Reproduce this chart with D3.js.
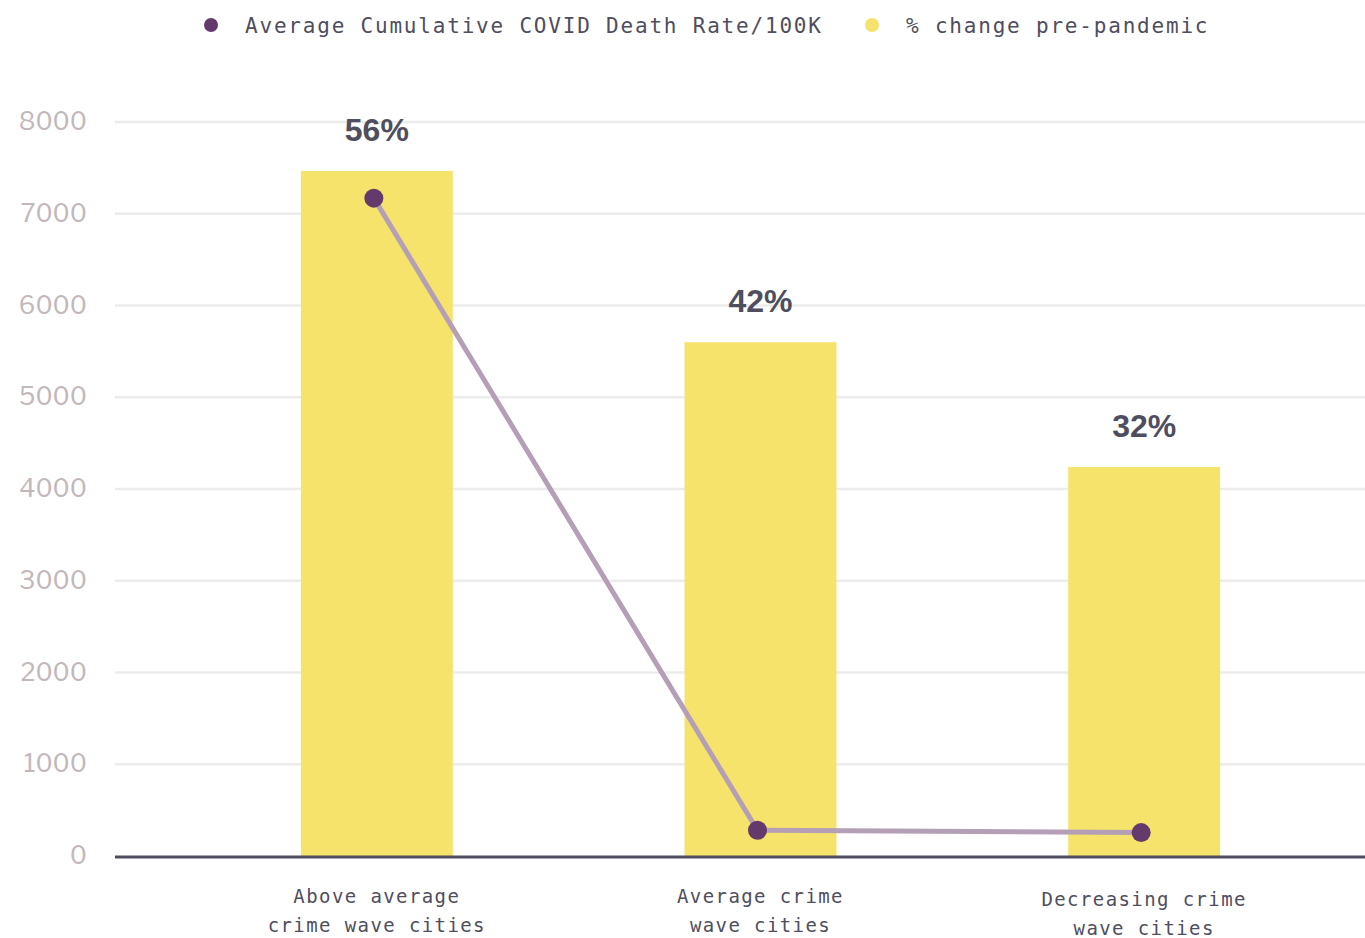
<!DOCTYPE html>
<meta charset="utf-8">
<style>
body { margin: 0; background: #fff; }
.grid line { stroke: #ececec; stroke-width: 2.5; }
.ylab { font-family: "Libre Franklin", Lato, "Open Sans", sans-serif; font-size: 25px; fill: #c2b8bb; }
.mono { font-family: "DejaVu Sans Mono", "Liberation Mono", monospace; fill: #4f4e5e; }
.pct { font-family: "Liberation Sans", Arial, sans-serif; font-weight: bold; font-size: 32px; fill: #4f4e5e; }
</style>
<svg width="1365" height="938"></svg>
<script src="https://cdn.jsdelivr.net/npm/d3@7"></script>
<script>

var categories = [["Above average", "crime wave cities"], ["Average crime", "wave cities"], ["Decreasing crime", "wave cities"]];
var pctChange = [56, 42, 31.8];
var deathRate = [7170, 280, 255];
var yTicks = [0, 1000, 2000, 3000, 4000, 5000, 6000, 7000, 8000];

var svg = d3.select("svg");

var y = d3.scaleLinear().domain([0, 8000]).range([856, 122]);
var y2 = d3.scaleLinear().domain([0, 60]).range([856, 122]);

var x = d3.scaleBand()
    .domain(d3.range(categories.length))
    .range([185, 1336])
    .paddingInner(0.604)
    .paddingOuter(0.302);

// gridlines
var grid = svg.append("g").attr("class", "grid");
grid.selectAll("line")
  .data(yTicks.slice(1))
  .enter().append("line")
    .attr("x1", 115).attr("x2", 1365)
    .attr("y1", function(d) { return y(d); })
    .attr("y2", function(d) { return y(d); });

svg.append("g").selectAll("text")
  .data(yTicks)
  .enter().append("text")
    .attr("class", "ylab")
    .attr("x", 87)
    .attr("y", function(d) { return y(d) + 8; })
    .attr("text-anchor", "end")
    .text(function(d) { return d; });

// bars
svg.append("g").selectAll("rect")
  .data(pctChange)
  .enter().append("rect")
    .attr("x", function(d, i) { return x(i); })
    .attr("width", x.bandwidth())
    .attr("y", function(d) { return y2(d); })
    .attr("height", function(d) { return y2(0) - y2(d); })
    .attr("fill", "#f6e36b");

svg.append("g").selectAll("text")
  .data(pctChange)
  .enter().append("text")
    .attr("class", "pct")
    .attr("x", function(d, i) { return x(i) + x.bandwidth() / 2; })
    .attr("y", function(d) { return y2(d) - 30; })
    .attr("text-anchor", "middle")
    .text(function(d) { return Math.round(d) + "%"; });

// baseline
svg.append("line")
    .attr("x1", 115).attr("x2", 1365)
    .attr("y1", y(0) + 1).attr("y2", y(0) + 1)
    .attr("stroke", "#4f4e5e").attr("stroke-width", 3);

// line series
var cx = function(d, i) { return x(i) + x.bandwidth() / 2 - 3; };
svg.append("path")
    .datum(deathRate)
    .attr("fill", "none")
    .attr("stroke", "#b49fb6")
    .attr("stroke-width", 5)
    .attr("d", d3.line().x(cx).y(function(d) { return y(d); }));

svg.append("g").selectAll("circle")
  .data(deathRate)
  .enter().append("circle")
    .attr("cx", cx)
    .attr("cy", function(d) { return y(d); })
    .attr("r", 9.5)
    .attr("fill", "#633a6b");

// x labels
var xl = svg.append("g").selectAll("text")
  .data(categories)
  .enter().append("text")
    .attr("class", "mono")
    .attr("text-anchor", "middle")
    .attr("font-size", "19px")
    .attr("letter-spacing", "1.4px")
    .attr("x", function(d, i) { return x(i) + x.bandwidth() / 2; })
    .attr("y", function(d, i) { return i === 2 ? 906 : 903; });
xl.selectAll("tspan")
  .data(function(d) { return d; })
  .enter().append("tspan")
    .attr("x", function() { return d3.select(this.parentNode).attr("x"); })
    .attr("dy", function(d, i) { return i ? 29 : 0; })
    .text(function(d) { return d; });

// legend
var legend = [
  {label: "Average Cumulative COVID Death Rate/100K", color: "#633a6b", x: 211},
  {label: "% change pre-pandemic", color: "#f6e36b", x: 872}
];
var lg = svg.append("g").selectAll("g")
  .data(legend)
  .enter().append("g");
lg.append("circle")
    .attr("cx", function(d) { return d.x; })
    .attr("cy", 25)
    .attr("r", 7)
    .attr("fill", function(d) { return d.color; });
lg.append("text")
    .attr("class", "mono")
    .attr("x", function(d) { return d.x + 34; })
    .attr("y", 33)
    .attr("font-size", "21px")
    .attr("letter-spacing", "1.8px")
    .text(function(d) { return d.label; });

</script>
